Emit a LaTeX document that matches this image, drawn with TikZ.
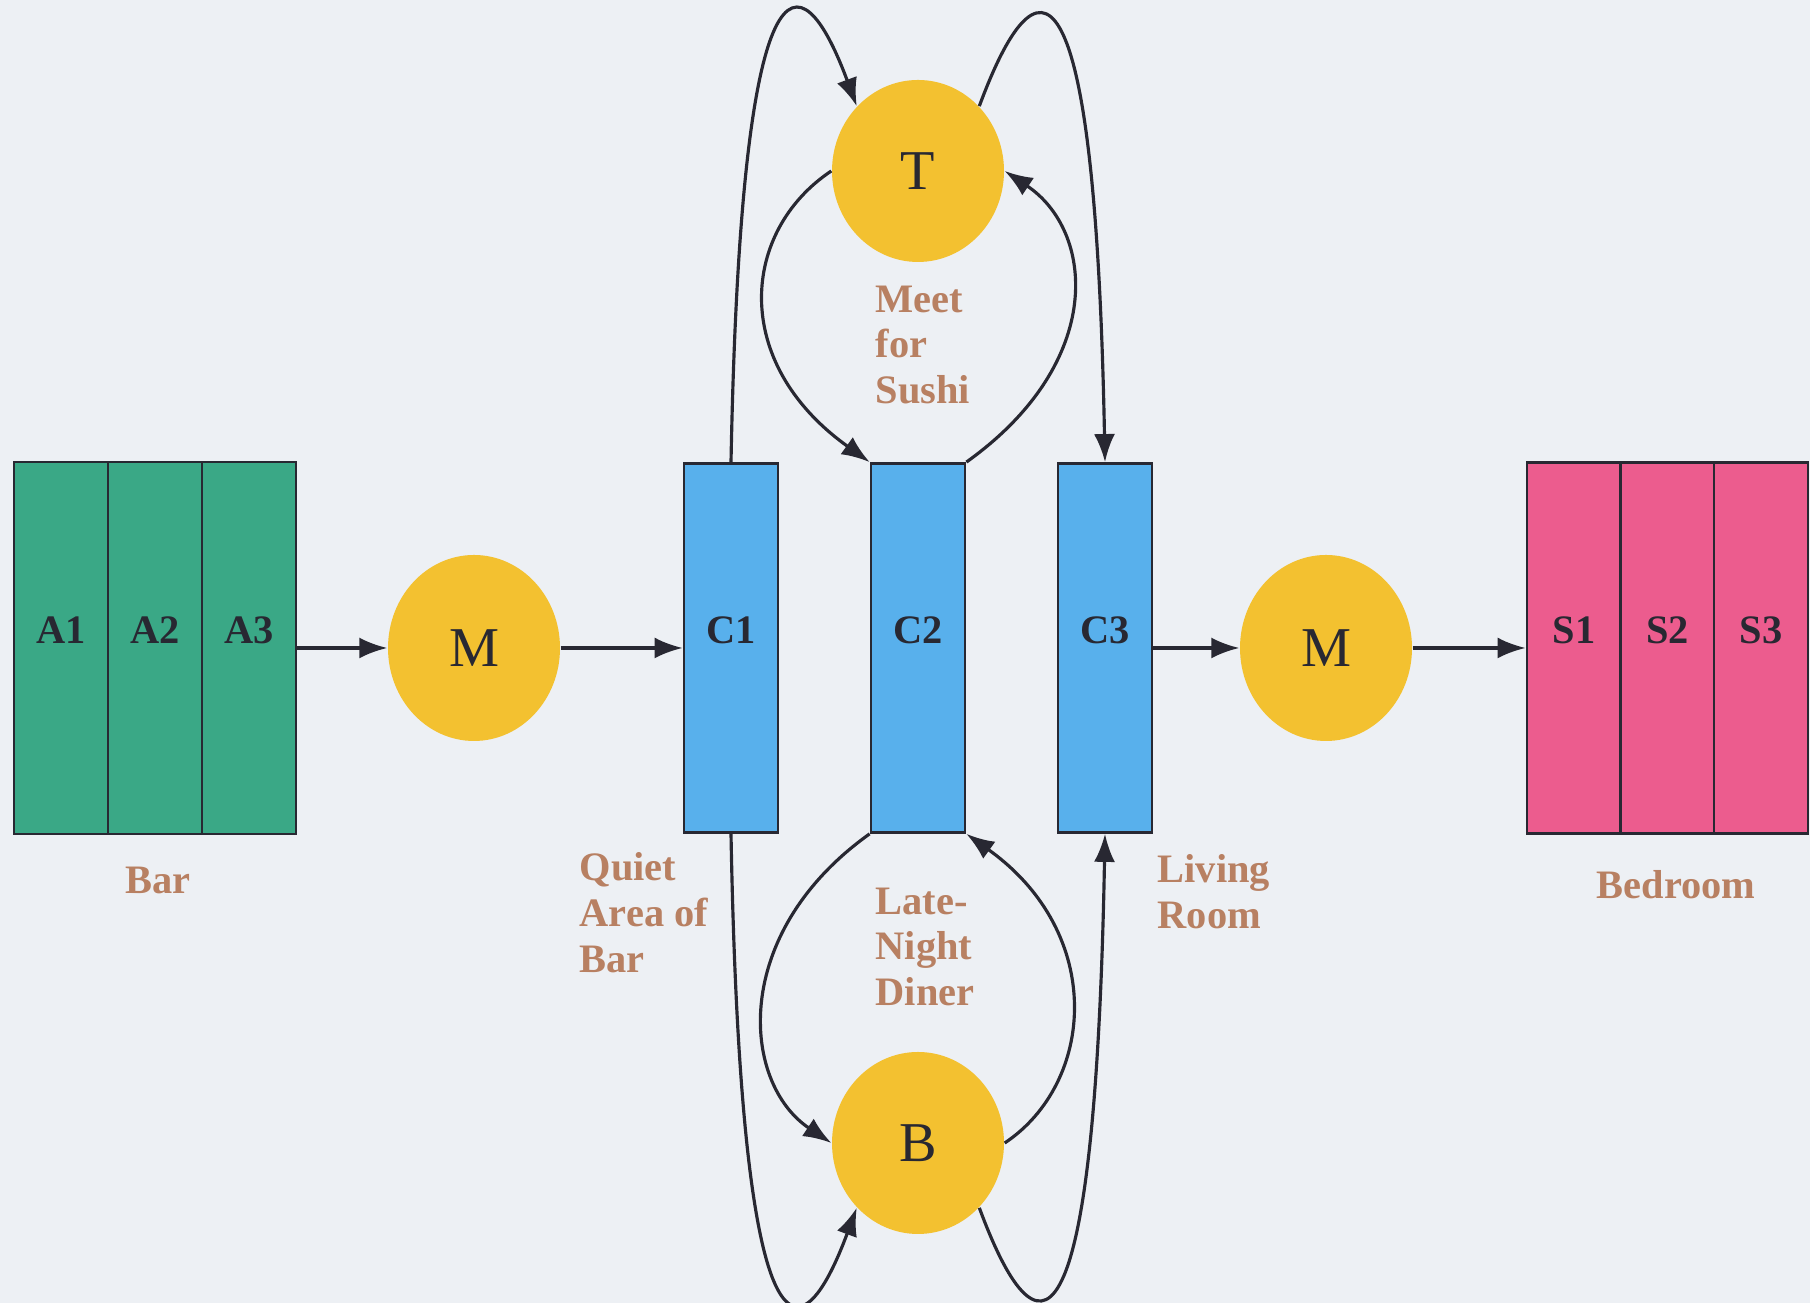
\documentclass[tikz,border=0pt]{standalone}
\usepackage{fontspec}
\setmainfont{Liberation Serif}
\usepackage{xcolor}
\usepackage{tikz}
\usetikzlibrary{shapes,shapes.geometric,arrows.meta,positioning,backgrounds,calc}

\definecolor{bgcol}{RGB}{237,240,244}
\definecolor{bargreen}{RGB}{58,168,134}
\definecolor{roomblue}{RGB}{88,176,236}
\definecolor{hubyellow}{RGB}{243,193,48}
\definecolor{bedpink}{RGB}{236,92,142}
\definecolor{labelbrown}{RGB}{184,128,98}
\definecolor{linegray}{RGB}{40,40,50}

\begin{document}
\begin{tikzpicture}[
    cell/.style={rectangle, draw=linegray, line width=0.8pt, minimum width=0.94cm, minimum height=3.72cm, inner sep=0pt},
    barcell/.style={cell, fill=bargreen},
    roomcell/.style={cell, fill=roomblue, minimum height=3.69cm},
    bedcell/.style={cell, fill=bedpink, minimum height=3.71cm},
    celltag/.style={label={[text=linegray, font=\fontsize{11.5}{13}\selectfont\bfseries, yshift=1.8mm]center:#1}},
    hub/.style={ellipse, fill=hubyellow, minimum width=1.72cm, minimum height=1.86cm, inner sep=0pt, text=linegray, font=\fontsize{16}{18}\selectfont},
    roomlabel/.style={text=labelbrown, font=\fontsize{11.5}{13}\selectfont\bfseries, align=left, inner sep=0pt},
    flow/.style={draw=linegray, line width=0.9pt, -{Latex[length=2.8mm,width=2.1mm]}}
  ]

    % Background
    \fill[bgcol] (0,0) rectangle (18.1,13.03);
    \useasboundingbox (0,0) rectangle (18.1,13.03);

    % Nodes
    \node[barcell, celltag=A1] (a1) at (0.61,6.55) {};
    \node[barcell, celltag=A2] (a2) at (1.55,6.55) {};
    \node[barcell, celltag=A3] (a3) at (2.49,6.55) {};

    \node[hub] (m1) at (4.74,6.55) {M};

    \node[roomcell, celltag=C1] (c1) at (7.31,6.55) {};
    \node[roomcell, celltag=C2] (c2) at (9.18,6.55) {};
    \node[roomcell, celltag=C3] (c3) at (11.05,6.55) {};

    \node[hub] (m2) at (13.26,6.55) {M};

    \node[bedcell, celltag=S1] (s1) at (15.74,6.55) {};
    \node[bedcell, celltag=S2] (s2) at (16.675,6.55) {};
    \node[bedcell, celltag=S3] (s3) at (17.61,6.55) {};

    \node[hub, minimum height=1.82cm] (t) at (9.18,11.32) {T};
    \node[hub, minimum height=1.82cm] (b) at (9.18,1.60) {B};

    % Labels
    \node[roomlabel] (barlbl) at (1.58,4.23) {Bar};
    \node[roomlabel, anchor=north west] (quietlbl) at (5.79,4.51) {Quiet\\Area of\\Bar};
    \node[roomlabel, anchor=north west] (sushilbl) at (8.75,10.18) {Meet\\for\\Sushi};
    \node[roomlabel, anchor=north west] (dinerlbl) at (8.75,4.16) {Late-\\Night\\Diner};
    \node[roomlabel, anchor=north west] (livinglbl) at (11.57,4.49) {Living\\Room};
    \node[roomlabel] (bedlbl) at (16.76,4.18) {Bedroom};

    % Main line
    \draw[flow] (a3.east) -- (m1.west);
    \draw[flow] (m1.east) -- (c1.west);
    \draw[flow] (c3.east) -- (m2.west);
    \draw[flow] (m2.east) -- (s1.west);

    % Detours over T
    \draw[flow] (c1.north) .. controls +(0.1,5.2) and +(-0.57,1.54) .. (t.north west);
    \draw[flow] (t.north east) .. controls +(0.57,1.54) and +(-0.1,5.2) .. (c3.north);
    \draw[flow] (t.west) .. controls +(-0.9,-0.6) and +(-1.4,1.0) .. (c2.north west);
    \draw[flow] (c2.north east) .. controls +(1.4,1.0) and +(0.9,-0.6) .. (t.east);

    % Detours under B
    \draw[flow] (c2.south west) .. controls +(-1.4,-1.0) and +(-0.9,0.6) .. (b.west);
    \draw[flow] (b.east) .. controls +(0.9,0.6) and +(1.4,-1.0) .. (c2.south east);
    \draw[flow] (c1.south) .. controls +(0.1,-5.4) and +(-0.57,-1.54) .. (b.south west);
    \draw[flow] (b.south east) .. controls +(0.57,-1.54) and +(-0.1,-5.4) .. (c3.south);
  \end{tikzpicture}
\end{document}
